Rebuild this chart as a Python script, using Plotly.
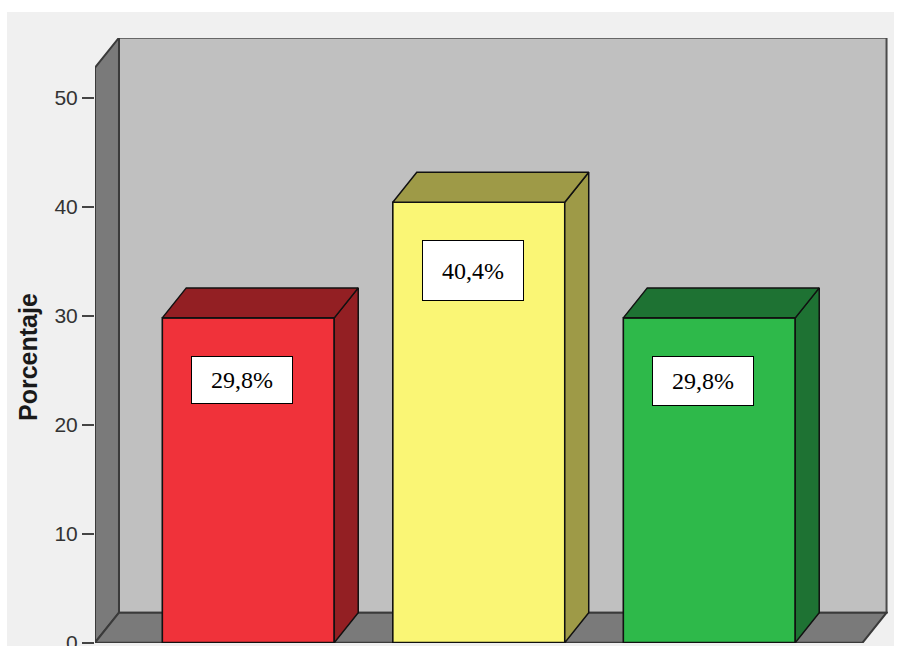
import plotly.graph_objects as go

# Data
categories = ["Bajo", "Medio", "Alto"]
percentages = [29.8, 40.4, 29.8]
value_labels = ["29,8%", "40,4%", "29,8%"]
tick_values = [0, 10, 20, 30, 40, 50]
tick_labels = ["0", "10", "20", "30", "40", "50"]

# Styling
front_colors = ["#F0323A", "#FAF675", "#2EB94A"]
shade_colors = ["#931F23", "#9E9A47", "#1E7233"]
label_box_heights = [46, 59, 48]

# 3D box geometry (data units)
XL, XR = -0.665, 2.665      # front floor extent along x
YT = 52.75                  # wall height
DX, DY = 0.104, 2.75        # depth offset of the back plane
BAR_W = 0.746
HW = BAR_W / 2

W_PX = 897 - 95 - 9
H_PX = 646 - 38 - 3
Y_MIN = -0.03

fig = go.Figure()

# Side and top faces of each bar
for i, (v, dark) in enumerate(zip(percentages, shade_colors)):
    xc = i
    # right side face
    fig.add_trace(go.Scatter(
        x=[xc + HW, xc + HW, xc + HW + DX, xc + HW + DX, xc + HW],
        y=[0, v, v + DY, DY, 0],
        fill="toself", fillcolor=dark, mode="lines",
        line=dict(color="#111111", width=1.5),
        hoverinfo="skip", showlegend=False))
    # top face
    fig.add_trace(go.Scatter(
        x=[xc - HW, xc + HW, xc + HW + DX, xc - HW + DX, xc - HW],
        y=[v, v, v + DY, v + DY, v],
        fill="toself", fillcolor=dark, mode="lines",
        line=dict(color="#111111", width=1.5),
        hoverinfo="skip", showlegend=False))

# Front faces
fig.add_trace(go.Bar(
    x=list(range(len(categories))), y=percentages, width=BAR_W,
    marker=dict(color=front_colors, line=dict(color="#111111", width=1.6)),
    hovertext=categories, showlegend=False))

shapes = []
# page background panel
shapes.append(dict(type="rect", xref="paper", yref="paper",
                   x0=(7 - 95) / W_PX, x1=(894 - 95) / W_PX,
                   y0=(643 - 660) / H_PX, y1=(643 - 12) / H_PX,
                   fillcolor="#F0F0F0", line=dict(width=0), layer="below"))
# back wall
shapes.append(dict(type="rect", xref="x", yref="y",
                   x0=XL + DX, x1=XR + DX, y0=DY, y1=YT + DY,
                   fillcolor="#C0C0C0", line=dict(color="#4A4A4A", width=2),
                   layer="below"))
# left wall
shapes.append(dict(type="path", xref="x", yref="y",
                   path=f"M {XL},0 L {XL},{YT} L {XL + DX},{YT + DY} L {XL + DX},{DY} Z",
                   fillcolor="#7A7A7A", line=dict(color="#3A3A3A", width=2),
                   layer="below"))
# floor
shapes.append(dict(type="path", xref="x", yref="y",
                   path=f"M {XL},0 L {XR},0 L {XR + DX},{DY} L {XL + DX},{DY} Z",
                   fillcolor="#7A7A7A", line=dict(color="#3A3A3A", width=2),
                   layer="below"))

annotations = []
for i, (v, txt, h) in enumerate(zip(percentages, value_labels, label_box_heights)):
    annotations.append(dict(
        x=i - 0.027, y=v - 3.5, xref="x", yref="y",
        text=txt, showarrow=False, xanchor="center", yanchor="top",
        width=100, height=h, bgcolor="white", bordercolor="#000000",
        borderwidth=1, borderpad=0,
        font=dict(family="Liberation Serif", size=24, color="#000000")))

annotations.append(dict(
    x=(28 - 95) / W_PX, y=(643 - 357) / H_PX, xref="paper", yref="paper",
    text="<b>Porcentaje</b>", textangle=-90, showarrow=False,
    xanchor="center", yanchor="middle",
    font=dict(family="Liberation Sans, Arial, sans-serif", size=25, color="#1A1A1A")))

fig.update_layout(
    width=897, height=646,
    margin=dict(l=95, r=9, t=38, b=3, autoexpand=False),
    paper_bgcolor="white", plot_bgcolor="rgba(0,0,0,0)",
    shapes=shapes, annotations=annotations,
    xaxis=dict(range=[XL, XL + W_PX / 230.5], visible=False, fixedrange=True,
               automargin=False),
    yaxis=dict(range=[Y_MIN, Y_MIN + H_PX / 10.9], showgrid=False, zeroline=False, showline=False,
               tickmode="array", tickvals=tick_values, ticktext=tick_labels,
               ticks="outside", ticklen=12, tickwidth=2, tickcolor="#444444",
               ticklabeloverflow="allow", automargin=False,
               tickfont=dict(family="Liberation Sans, Arial, sans-serif", size=21, color="#333333"),
               fixedrange=True),
)

fig.write_html("out.html")
